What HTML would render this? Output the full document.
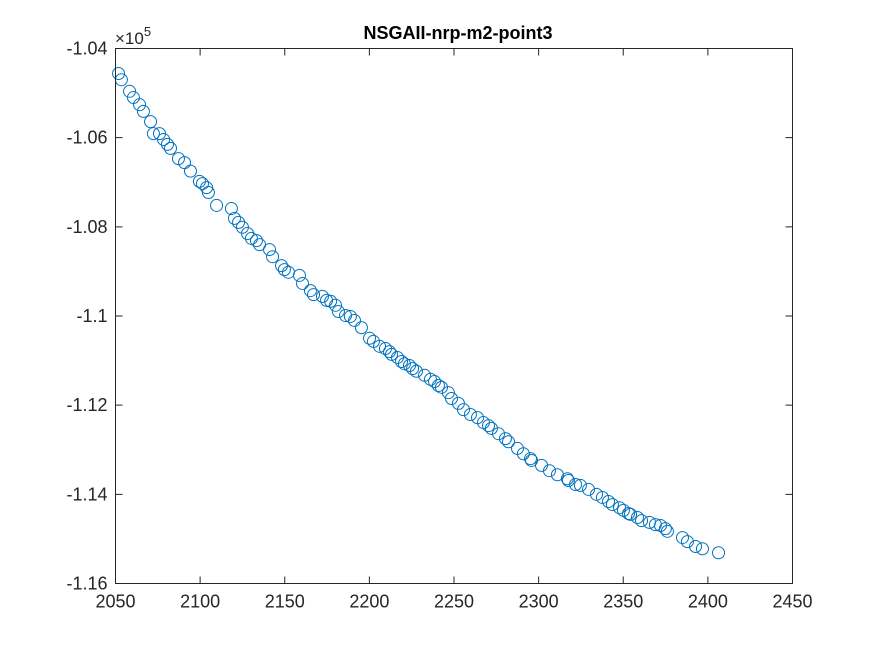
<!DOCTYPE html>
<html><head><meta charset="utf-8"><style>
body{margin:0;background:#fff;}
svg{display:block;font-family:"Liberation Sans",Arial,sans-serif;}
</style></head><body>
<svg id="chart" width="875" height="656">
<rect x="0" y="0" width="875" height="656" fill="#fff"/>
<g id="marks"></g>
<rect x="115.5" y="48.5" width="677" height="535" fill="none" stroke="#262626" stroke-width="1"/>
<g id="axes"></g>
<text x="458" y="39" text-anchor="middle" font-size="18" font-weight="bold" fill="#000">NSGAII-nrp-m2-point3</text>
<text x="115" y="44" font-size="17" fill="#262626">×10<tspan dy="-8" font-size="13">5</tspan></text>
</svg>
<script>
const xs=[2051.8,2053.5,2058.3,2060.6,2064.2,2066.5,2070.7,2072.4,2076.0,2078.4,2080.7,2082.5,2087.2,2090.8,2094.3,2099.6,2101.4,2103.8,2104.9,2109.7,2118.5,2120.3,2122.7,2125.0,2128.0,2130.3,2133.3,2135.1,2141.0,2142.8,2148.1,2149.8,2152.2,2158.7,2160.5,2165.2,2167.0,2172.3,2174.7,2177.1,2180.0,2181.7,2185.9,2188.8,2191.2,2195.3,2200.1,2202.4,2206.0,2209.5,2211.9,2213.1,2216.6,2219.0,2220.7,2223.7,2225.5,2227.8,2232.6,2236.1,2238.5,2240.8,2242.6,2246.7,2248.5,2252.6,2255.6,2259.7,2263.9,2267.4,2270.4,2272.1,2276.3,2280.4,2282.2,2287.5,2291.0,2295.2,2295.8,2301.7,2306.4,2311.1,2317.0,2317.6,2321.8,2324.7,2329.5,2334.2,2337.7,2341.3,2343.6,2347.8,2350.1,2353.1,2354.3,2358.4,2360.8,2365.5,2369.0,2372.0,2374.9,2376.1,2385.0,2387.9,2392.7,2396.8,2406.3];
const ys=[-1.0456,-1.0470,-1.0496,-1.0510,-1.0526,-1.0541,-1.0564,-1.0591,-1.0591,-1.0604,-1.0615,-1.0624,-1.0647,-1.0656,-1.0675,-1.0698,-1.0703,-1.0712,-1.0723,-1.0752,-1.0759,-1.0781,-1.0790,-1.0801,-1.0815,-1.0826,-1.0831,-1.0840,-1.0851,-1.0867,-1.0887,-1.0896,-1.0902,-1.0909,-1.0927,-1.0943,-1.0952,-1.0956,-1.0965,-1.0967,-1.0976,-1.0990,-1.0999,-1.1001,-1.1010,-1.1026,-1.1050,-1.1057,-1.1068,-1.1073,-1.1080,-1.1086,-1.1093,-1.1102,-1.1107,-1.1111,-1.1118,-1.1124,-1.1133,-1.1142,-1.1147,-1.1156,-1.1160,-1.1172,-1.1185,-1.1196,-1.1210,-1.1221,-1.1228,-1.1239,-1.1246,-1.1252,-1.1264,-1.1275,-1.1282,-1.1297,-1.1309,-1.1320,-1.1324,-1.1335,-1.1347,-1.1356,-1.1365,-1.1369,-1.1378,-1.1380,-1.1389,-1.1400,-1.1407,-1.1416,-1.1423,-1.1430,-1.1436,-1.1443,-1.1445,-1.1452,-1.1459,-1.1463,-1.1468,-1.1470,-1.1477,-1.1483,-1.1497,-1.1506,-1.1517,-1.1522,-1.1531];
const xTicks=[2050,2100,2150,2200,2250,2300,2350,2400,2450];
const yTicks=[-1.04,-1.06,-1.08,-1.1,-1.12,-1.14,-1.16];
const yTickLabels=["-1.04","-1.06","-1.08","-1.1","-1.12","-1.14","-1.16"];
const L=115.5,R=792.5,T=48.5,B=583.5;
function sx(v){return L+(v-2050)/(2450-2050)*(R-L);}
function sy(v){return T+(-1.04-v)/(0.12)*(B-T);}
const NS="http://www.w3.org/2000/svg";
const marks=document.getElementById('marks');
for(let i=0;i<xs.length;i++){
  const c=document.createElementNS(NS,'circle');
  c.setAttribute('cx',sx(xs[i]));c.setAttribute('cy',sy(ys[i]));c.setAttribute('r',6);
  c.setAttribute('fill','none');c.setAttribute('stroke','#0072BD');c.setAttribute('stroke-width','1');
  
  
  marks.appendChild(c);
}
const axes=document.getElementById('axes');
xTicks.forEach(function(t){
  const x=sx(t);
  const l=document.createElementNS(NS,'path');
  l.setAttribute('d','M'+x+' '+B+'v-7M'+x+' '+T+'v7');l.setAttribute('stroke','#262626');
  
  
  axes.appendChild(l);
  const tx=document.createElementNS(NS,'text');
  tx.setAttribute('x',x);tx.setAttribute('y',B+24);tx.setAttribute('text-anchor','middle');
  tx.setAttribute('font-size','18');tx.setAttribute('fill','#262626');tx.textContent=t;
  
  
  axes.appendChild(tx);
});
yTicks.forEach(function(t,i){
  const y=sy(t);
  const l=document.createElementNS(NS,'path');
  l.setAttribute('d','M'+L+' '+y+'h7M'+R+' '+y+'h-7');l.setAttribute('stroke','#262626');
  
  
  axes.appendChild(l);
  const tx=document.createElementNS(NS,'text');
  tx.setAttribute('x',L-8);tx.setAttribute('y',y+6);tx.setAttribute('text-anchor','end');
  tx.setAttribute('font-size','18');tx.setAttribute('fill','#262626');tx.textContent=yTickLabels[i];
  
  
  axes.appendChild(tx);
});
</script>
</body></html>
